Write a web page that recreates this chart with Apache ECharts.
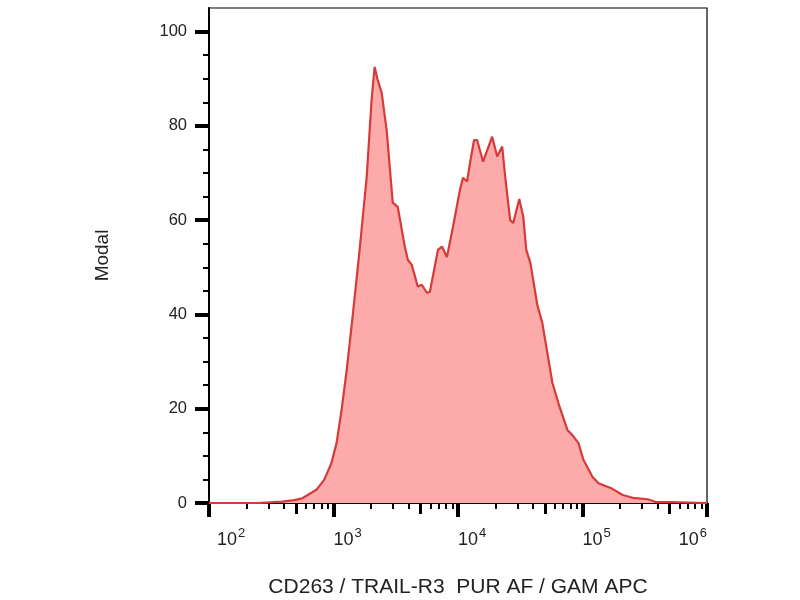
<!DOCTYPE html>
<html>
<head>
<meta charset="utf-8">
<script src="https://cdn.jsdelivr.net/npm/echarts@6/dist/echarts.min.js"></script>
<style>html,body{margin:0;padding:0;background:#fff}#c{width:800px;height:600px}</style>
</head>
<body>
<div id="c"></div>
<script>
// Fluorescence intensity (x) and modal % (y)
const intensity = [100,250,388,485,562,729,846,963,1058,1161,1274,1423,1621,1846,2024,2141,2250,2438,2675,2991,3281,3738,3953,4256,4755,5124,5623,5945,6902,7430,8150,9120,10380,10970,11830,12500,13460,14230,15910,18800,20640,22650,23940,26250,27780,31050,33450,35330,38090,43380,47550,57280,63990,75660,82990,92830,101900,120500,134600,168300,210400,253000,334300,387800,512700,1000000];
const modal = [0,0,0.3,0.6,1.0,2.8,5,8.5,12.7,19.7,28,39.5,53.7,69,85.6,92.5,90,87,79,63.7,62.8,54.4,51.6,50.5,45.9,46.3,44.6,44.8,53.7,54.4,52.2,58.6,66.5,69,68.2,72.2,77,77,72.4,77.7,73.5,75.6,69.2,60,59.4,64.5,60.7,53.7,51,42,38.2,25.5,21.2,15.5,14.4,12.7,9.1,5.5,4.2,3.2,1.7,1.1,0.8,0.2,0.2,0];
const xMajor = [100,1000,10000,100000,1000000];
const xMinor = [200,300,400,600,700,800,900,2000,3000,4000,6000,7000,8000,9000,20000,30000,40000,60000,70000,80000,90000,200000,300000,400000,600000,700000,800000,900000];
const xMid = [500,5000,50000,500000];
const yMajor = [0,20,40,60,80,100];
const yMinor = [5,10,15,25,30,35,45,50,55,65,70,75,85,90,95];
const xTitle = 'CD263 / TRAIL-R3  PUR AF / GAM APC';
const yTitle = 'Modal';

const seriesData = intensity.map((v, i) => [v, modal[i]]);
const font = 'Liberation Sans, Arial, sans-serif';

function xAxisBase(extra) {
  return Object.assign({
    type: 'log', logBase: 10, min: 100, max: 1000000, position: 'bottom',
    splitLine: { show: false }, axisLine: { show: false }, axisLabel: { show: false },
    axisTick: { show: false }
  }, extra);
}
function yAxisBase(extra) {
  return Object.assign({
    type: 'value', min: 0, max: 105, position: 'left',
    splitLine: { show: false }, axisLine: { show: false }, axisLabel: { show: false },
    axisTick: { show: false }
  }, extra);
}

const chart = echarts.init(document.getElementById('c'), null, { renderer: 'canvas' });
chart.setOption({
  animation: false,
  backgroundColor: '#fff',
  grid: { left: 209, right: 93, top: 8, bottom: 97, containLabel: false, outerBoundsMode: 'none',
          show: true, borderColor: '#000', borderWidth: 1.2, backgroundColor: 'transparent' },
  xAxis: [
    xAxisBase({
      name: xTitle, nameLocation: 'middle', nameGap: 74,
      nameTextStyle: { fontFamily: font, fontSize: 21, color: '#222' },
      axisLine: { show: true, onZero: false, lineStyle: { color: '#000', width: 2 } },
      axisTick: { show: true, customValues: xMajor, length: 14, lineStyle: { color: '#000', width: 4 } },
      axisLabel: {
        show: true, customValues: xMajor, margin: 24, align: 'left',
        alignMinLabel: 'left', alignMaxLabel: 'right',
        formatter: v => (v === 100 ? '{p|}' : '') + '{b|10}{s|' + Math.round(Math.log10(v)) + '}',
        rich: {
          p: { width: 8 },
          b: { fontFamily: font, fontSize: 18, color: '#222' },
          s: { fontFamily: font, fontSize: 13, color: '#222', padding: [0, 0, 14, 1] }
        }
      }
    }),
    xAxisBase({ axisTick: { show: true, customValues: xMinor, length: 6, lineStyle: { color: '#000', width: 2 } } }),
    xAxisBase({ axisTick: { show: true, customValues: xMid, length: 11, lineStyle: { color: '#000', width: 3 } } })
  ],
  yAxis: [
    yAxisBase({
      name: yTitle, nameLocation: 'middle', nameGap: 97, nameRotate: 90,
      nameTextStyle: { fontFamily: font, fontSize: 19, color: '#222' },
      axisLine: { show: true, onZero: false, lineStyle: { color: '#000', width: 2 } },
      axisTick: { show: true, customValues: yMajor, length: 14, lineStyle: { color: '#000', width: 4 } },
      axisLabel: { show: true, customValues: yMajor, margin: 22, fontFamily: font, fontSize: 16.5, color: '#222' }
    }),
    yAxisBase({ axisTick: { show: true, customValues: yMinor, length: 6, lineStyle: { color: '#000', width: 2 } } })
  ],
  series: [{
    type: 'line',
    data: seriesData,
    xAxisIndex: 0, yAxisIndex: 0,
    showSymbol: false, symbol: 'none',
    smooth: false,
    lineStyle: { color: '#d63a3a', width: 2.2 },
    areaStyle: { color: '#fcaaaa', opacity: 1 },
    z: 1
  }]
});
</script>
</body>
</html>
